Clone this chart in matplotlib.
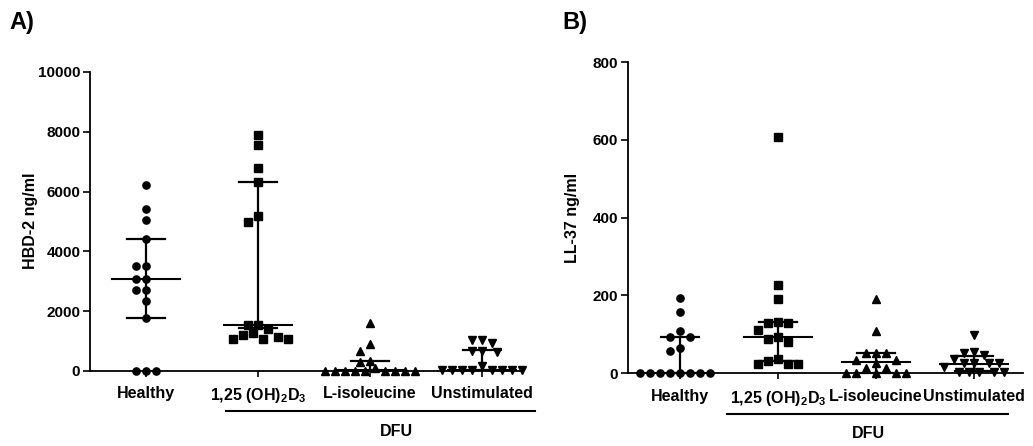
import matplotlib
matplotlib.use('Agg')
import matplotlib.pyplot as plt
from matplotlib.lines import Line2D
import numpy as np

plt.rcParams['font.family'] = ['Liberation Sans', 'DejaVu Sans']
plt.rcParams['font.weight'] = 'bold'
plt.rcParams['mathtext.fontset'] = 'custom'
plt.rcParams['mathtext.rm'] = 'Liberation Sans:bold'
plt.rcParams['mathtext.it'] = 'Liberation Sans:bold'
plt.rcParams['mathtext.bf'] = 'Liberation Sans:bold'
plt.rcParams['mathtext.default'] = 'bf'

groups = ['Healthy', '1,25 (OH)$_2$D$_3$', 'L-isoleucine', 'Unstimulated']
markers = ['o', 's', '^', 'v']

# panel A - HBD-2 ng/ml
hbd_healthy = [6230, 5430, 5050, 4410, 3500, 3500, 3077, 3077, 2710, 2710, 2350, 1760, 0, 0, 0]
hbd_vitd = [7880, 7570, 6780, 6310, 5190, 4990, 1540, 1540, 1390, 1280, 1200, 1150, 1070, 1070, 1070]
hbd_ile = [1615, 892, 669, 345, 310, 90, 0, 0, 0, 0, 0, 0, 0, 0, 0]
hbd_unst = [1037, 1037, 946, 680, 680, 645, 167, 50, 50, 50, 50, 50, 50, 50, 50]
hbd_median = [3077, 1540, 40, 50]
hbd_q1 = [1760, 1450, 0, 50]
hbd_q3 = [4410, 6310, 345, 700]

# panel B - LL-37 ng/ml
ll_healthy = [194, 158, 109, 94, 94, 66, 57, 0, 0, 0, 0, 0, 0, 0, 0]
ll_vitd = [608, 228, 190, 132, 128, 128, 111, 94, 87, 81, 38, 32, 23, 23, 23]
ll_ile = [190, 108, 53, 53, 53, 34, 34, 26, 13, 13, 0, 0, 0, 0, 0]
ll_unst = [98, 55, 51, 47, 36, 26, 26, 26, 26, 17, 4, 4, 4, 4, 4]
ll_median = [0, 94, 28, 24]
ll_q1 = [0, 32, 0, 6]
ll_q3 = [94, 132, 53, 44]

W, H = 1033, 446
fig = plt.figure(figsize=(W / 100, H / 100), dpi=100)


def rect(l, t, r, b):
    return [l / W, 1 - b / H, (r - l) / W, (b - t) / H]


def swarm(vals, sy, step=5, mind=9):
    # simple beeswarm in pixel units
    placed = []
    offs = []
    cands = [0] + [s * j * step for j in range(1, 30) for s in (-1, 1)]
    for v in vals:
        y = v * sy
        for c in cands:
            if all((c - px) ** 2 + (y - py) ** 2 >= mind ** 2 for px, py in placed):
                break
        placed.append((c, y))
        offs.append(c)
    return np.array(offs)


def panel(ax, data, med, q1, q3, ymax, yticks, xlim, ylabel):
    ax.set_xlim(*xlim)
    ax.set_ylim(0, ymax)
    bb = ax.get_position()
    sx = bb.width * W / (xlim[1] - xlim[0])
    sy = bb.height * H / ymax
    for i, vals in enumerate(data):
        offs = swarm(vals, sy)
        ax.plot(i + offs / sx, vals, linestyle='none', marker=markers[i],
                ms=5.2 if markers[i] in 'os' else 5.8, color='black', clip_on=False, zorder=3)
        mh = 34 / sx
        ch = 19 / sx
        ax.plot([i, i], [q1[i], q3[i]], color='black', lw=1.6, zorder=4, clip_on=False)
        ax.plot([i - mh, i + mh], [med[i], med[i]], color='black', lw=1.5, zorder=4, clip_on=False)
        for q in (q1[i], q3[i]):
            ax.plot([i - ch, i + ch], [q, q], color='black', lw=1.6, zorder=4, clip_on=False)
    for s in ('top', 'right'):
        ax.spines[s].set_visible(False)
    for s in ('left', 'bottom'):
        ax.spines[s].set_linewidth(1.3)
    ax.set_yticks(yticks)
    ax.set_yticklabels([str(t) for t in yticks], fontsize=11, fontweight='bold')
    ax.set_xticks(range(4))
    ax.set_xticklabels(groups, fontsize=11.5, fontweight='bold')
    ax.tick_params(axis='y', length=5, width=1.2, pad=2)
    ax.tick_params(axis='x', length=4, width=1.2, pad=7)


axA = fig.add_axes(rect(90, 72, 520, 371))
panel(axA, [hbd_healthy, hbd_vitd, hbd_ile, hbd_unst], hbd_median, hbd_q1, hbd_q3,
      10000, [0, 2000, 4000, 6000, 8000, 10000], (-0.5, 3.34), 'HBD-2 ng/ml')

axB = fig.add_axes(rect(628, 62, 1023, 373.3))
panel(axB, [ll_healthy, ll_vitd, ll_ile, ll_unst], ll_median, ll_q1, ll_q3,
      800, [0, 200, 400, 600, 800], (-0.53, 3.5), 'LL-37 ng/ml')


def ftext(x, y, s, **kw):
    fig.text(x / W, 1 - y / H, s, fontweight='bold', **kw)


ftext(9, 22, 'A)', fontsize=17, va='center', ha='left')
ftext(562, 22, 'B)', fontsize=17, va='center', ha='left')
ftext(30, 221, 'HBD-2 ng/ml', fontsize=11.5, rotation=90, va='center', ha='center')
ftext(573, 218, 'LL-37 ng/ml', fontsize=11.5, rotation=90, va='center', ha='center')

fig.add_artist(Line2D([226 / W, 535 / W], [1 - 410.5 / H] * 2, color='black', lw=1.5))
fig.add_artist(Line2D([727 / W, 1008 / W], [1 - 414 / H] * 2, color='black', lw=1.5))
ftext(396, 431, 'DFU', fontsize=11.5, va='center', ha='center')
ftext(868, 434, 'DFU', fontsize=11.5, va='center', ha='center')

fig.savefig('out.png', dpi=100)
